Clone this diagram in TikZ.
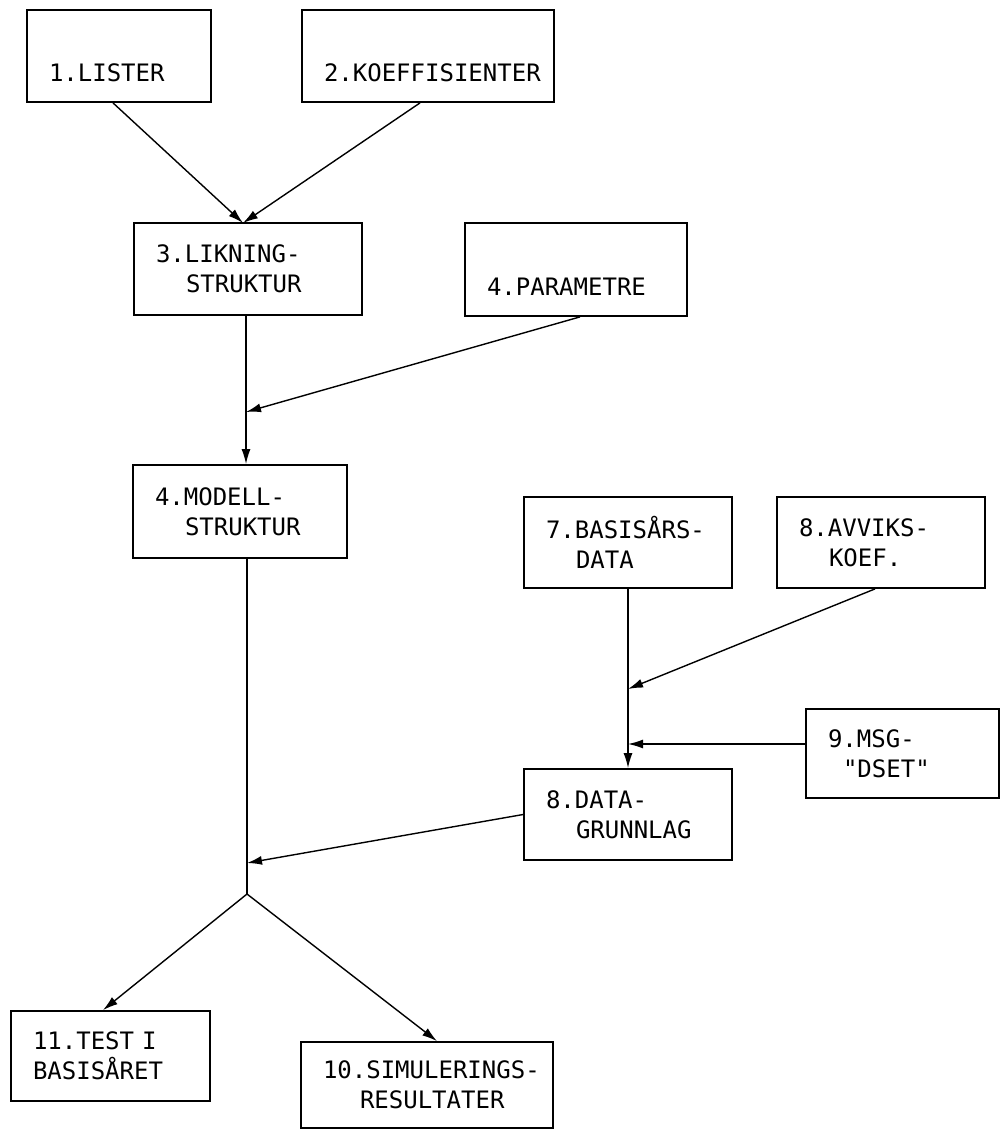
\documentclass[tikz,border=0pt]{standalone}
\usepackage{fontspec}
\setmonofont{DejaVu Sans Mono}
\usetikzlibrary{arrows.meta}
\tikzset{
  bx/.style={draw, line width=0.9pt, align=left, inner xsep=11pt, inner ysep=0pt, font=\ttfamily\fontsize{12}{15}\selectfont},
  arr/.style={-{Latex[length=7.5pt,width=4.5pt]}, line width=0.7pt},
  ln/.style={line width=0.7pt},
}
\begin{document}
\begin{tikzpicture}[x=0.5pt, y=-0.5pt]
\useasboundingbox (0,0) rectangle (1000,1130);
% left column
\node[bx, text width=70pt, minimum height=46pt] (lister) at (119,56) {\strut\\1.LISTER};
\node[bx, text width=104pt, minimum height=46pt] (koef) at (428,56) {\strut\\2.KOEFFISIENTER};
\node[bx, text width=92pt, minimum height=46pt] (likn) at (248,269) {3.LIKNING-\\\hspace*{15pt}STRUKTUR};
\node[bx, text width=89pt, minimum height=46.5pt] (param) at (576,269.5) {\strut\\4.PARAMETRE};
\node[bx, text width=85pt, minimum height=46.5pt] (modell) at (240,511.5) {4.MODELL-\\\hspace*{15pt}STRUKTUR};
% right column
\node[bx, text width=82pt, minimum height=45.5pt] (basis) at (628,542.5) {7.BASISÅRS-\\\hspace*{15pt}DATA};
\node[bx, text width=82pt, minimum height=45.5pt] (avvik) at (881,542.5) {8.AVVIKS-\\\hspace*{15pt}KOEF.};
\node[bx, text width=74.5pt, minimum height=44.5pt] (msg) at (902.5,753.5) {9.MSG-\\\hspace*{7.5pt}"DSET"};
\node[bx, text width=82pt, minimum height=45.5pt] (data) at (628,814.5) {8.DATA-\\\hspace*{15pt}GRUNNLAG};
% results
\node[bx, text width=77.5pt, minimum height=45pt] (test) at (110.5,1056) {11.TEST I\\BASISÅRET};
\node[bx, text width=104pt, minimum height=43pt] (simres) at (427,1085) {10.SIMULERINGS-\\\hspace*{18.5pt}RESULTATER};

% junctions
\coordinate (in3) at (243,223);
\coordinate (jp) at (246,412);
\coordinate (jd) at (247,863);
\coordinate (js) at (247,894);
\coordinate (ja) at (628,689);
\coordinate (jm) at (628,744);

\draw[arr] ([xshift=-3pt]lister.south) -- (in3);
\draw[arr] ([xshift=-4pt]koef.south) -- (in3);
\draw[arr] (likn.south -| jp) -- (modell.north -| jp);
\draw[arr] ([xshift=2pt]param.south) -- (jp);
\draw[ln] (modell.south -| js) -- (js);
\draw[arr] (data.west) -- (jd);
\draw[arr] (js) -- ([xshift=-3.75pt]test.north);
\draw[arr] (js) -- ([xshift=5pt]simres.north);

\draw[arr] (basis.south) -- (data.north);
\draw[arr] ([xshift=-3pt]avvik.south) -- (ja);
\draw[arr] (msg.west |- jm) -- (jm);
\end{tikzpicture}
\end{document}
